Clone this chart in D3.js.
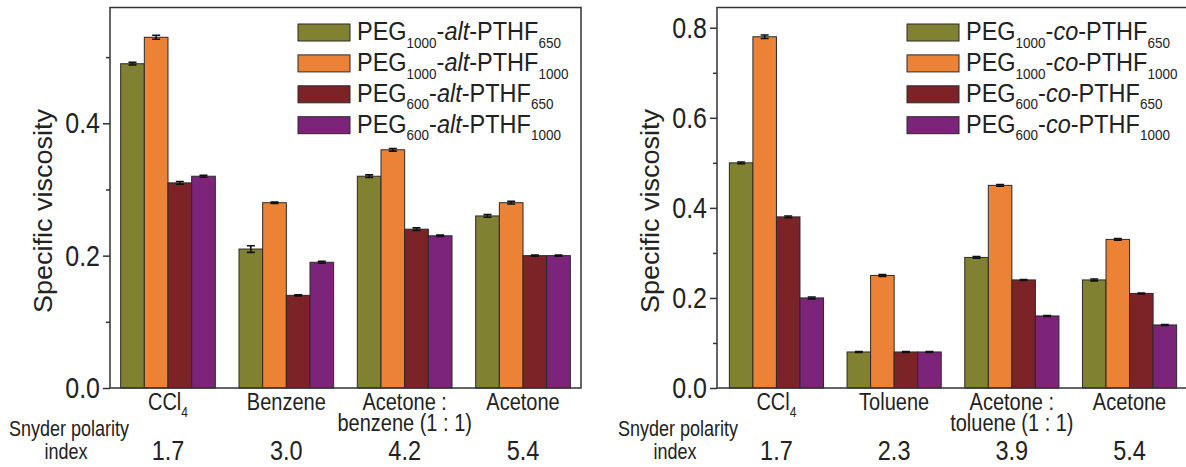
<!DOCTYPE html>
<html lang="en">
<head>
<meta charset="UTF-8">
<title>Specific viscosity - alt vs co copolymers</title>
<script src="https://d3js.org/d3.v7.min.js"></script>
<style>
  body { margin: 0; background: #fff; }
  svg text { font-family: "Liberation Sans", Arial, sans-serif; fill: #222; }
</style>
</head>
<body>
<svg width="1186" height="467"></svg>
<script>
// ---- data ----
const seriesColors = ["#808232", "#ec8236", "#7c2328", "#7b2479"];

// left panel: alternating copolymers
const altSeries = [
  { peg: "1000", link: "alt", pthf: "650" },
  { peg: "1000", link: "alt", pthf: "1000" },
  { peg: "600", link: "alt", pthf: "650" },
  { peg: "600", link: "alt", pthf: "1000" }
];
const altCategories = ["CCl4", "Benzene", "Acetone : benzene (1 : 1)", "Acetone"];
const altPolarity = ["1.7", "3.0", "4.2", "5.4"];
// rows = solvent, columns = series
const altValues = [
  [0.49, 0.53, 0.31, 0.32],
  [0.21, 0.28, 0.14, 0.19],
  [0.32, 0.36, 0.24, 0.23],
  [0.26, 0.28, 0.20, 0.20]
];
const altErrors = [
  [0.002, 0.003, 0.002, 0.0015],
  [0.005, 0.001, 0.001, 0.0015],
  [0.002, 0.002, 0.002, 0.001],
  [0.002, 0.002, 0.001, 0.001]
];

// right panel: random copolymers
const coSeries = [
  { peg: "1000", link: "co", pthf: "650" },
  { peg: "1000", link: "co", pthf: "1000" },
  { peg: "600", link: "co", pthf: "650" },
  { peg: "600", link: "co", pthf: "1000" }
];
const coCategories = ["CCl4", "Toluene", "Acetone : toluene (1 : 1)", "Acetone"];
const coPolarity = ["1.7", "2.3", "3.9", "5.4"];
const coValues = [
  [0.50, 0.78, 0.38, 0.20],
  [0.08, 0.25, 0.08, 0.08],
  [0.29, 0.45, 0.24, 0.16],
  [0.24, 0.33, 0.21, 0.14]
];
const coErrors = [
  [0.002, 0.004, 0.002, 0.002],
  [0.001, 0.002, 0.001, 0.001],
  [0.002, 0.002, 0.001, 0.001],
  [0.002, 0.002, 0.001, 0.001]
];

const svg = d3.select("svg");

// the figure's lettering is a bit taller than plain Arial: stretch around the baseline
function stretch(t, sy) {
  const x = +t.attr("x") || 0, y = +t.attr("y") || 0;
  t.attr("transform", `translate(${x},${y}) scale(1,${sy}) translate(${-x},${-y})`);
  return t;
}

// category label: "CCl4" gets a subscript, "A : b (1 : 1)" splits onto two lines
function categoryLabel(g, cx, name) {
  const t = g.append("text").attr("text-anchor", "middle").attr("font-size", 20)
    .attr("x", cx).attr("y", 410);
  if (name === "CCl4") {
    t.append("tspan").text("CCl");
    t.append("tspan").attr("font-size", 12).attr("dy", 6).text("4");
  } else if (name.includes("(")) {
    const parts = name.split(" : ");
    t.append("tspan").attr("x", cx).attr("y", 410).text(parts[0] + " :");
    t.append("tspan").attr("x", cx).attr("y", 428.5).text(parts.slice(1).join(" : "));
  } else {
    t.text(name);
  }
  stretch(t, 1.15);
}

function drawPanel(p) {
  const g = svg.append("g");

  const x = d3.scaleBand().domain(p.categories).range([p.left, p.right])
    .paddingInner(0.2).paddingOuter(p.outer);
  const xs = d3.scaleBand().domain(d3.range(4)).range([0, x.bandwidth()]);
  const y = d3.scaleLinear().domain([0, p.ymax]).range([388, 7.5]);

  // bars
  p.categories.forEach((c, i) => {
    const grp = g.append("g").attr("transform", `translate(${x(c)},0)`);
    p.values[i].forEach((v, j) => {
      grp.append("rect")
        .attr("x", xs(j)).attr("y", y(v))
        .attr("width", xs.bandwidth()).attr("height", y(0) - y(v))
        .attr("fill", seriesColors[j])
        .attr("stroke", "#2a2a2a").attr("stroke-width", 1);
      // error bar
      const e = p.errors[i][j], ex = xs(j) + xs.bandwidth() / 2;
      grp.append("path")
        .attr("d", `M${ex},${y(v - e)}V${y(v + e)}M${ex - 4},${y(v + e)}H${ex + 4}M${ex - 4},${y(v - e)}H${ex + 4}`)
        .attr("stroke", "#111").attr("stroke-width", 1.6).attr("fill", "none");
    });
    categoryLabel(g, x(c) + x.bandwidth() / 2, c);
    stretch(g.append("text").attr("x", x(c) + x.bandwidth() / 2).attr("y", 460)
      .attr("text-anchor", "middle").attr("font-size", 23.5).text(p.polarity[i]), 1.15);
  });

  // frame
  g.append("rect").attr("x", p.left).attr("y", 7.5)
    .attr("width", p.right - p.left).attr("height", 388 - 7.5)
    .attr("fill", "none").attr("stroke", "#333").attr("stroke-width", 1.5);

  // y axis with minor ticks
  const major = d3.range(0, p.ymax + 1e-9, 0.2);
  const minor = d3.range(0.1, p.ymax, 0.2);
  const ax = g.append("g").attr("transform", `translate(${p.left},0)`)
    .call(d3.axisLeft(y).tickValues(major).tickFormat(d3.format(".1f"))
      .tickSize(7).tickSizeOuter(0).tickPadding(3));
  ax.select(".domain").remove();
  ax.selectAll("line").attr("stroke", "#333").attr("stroke-width", 1.5);
  ax.selectAll("text").attr("font-size", 25).attr("fill", "#222")
    .attr("font-family", "Liberation Sans, Arial, sans-serif")
    .attr("transform", "scale(1,1.2)");
  const mx = g.append("g").attr("transform", `translate(${p.left},0)`)
    .call(d3.axisLeft(y).tickValues(minor).tickFormat("").tickSize(4).tickSizeOuter(0));
  mx.select(".domain").remove();
  mx.selectAll("line").attr("stroke", "#333").attr("stroke-width", 1.5);

  // y title
  g.append("text").attr("transform", `translate(${p.titleX},211) rotate(-90) scale(1.08,1)`)
    .attr("text-anchor", "middle").attr("font-size", 25).text("Specific viscosity");

  // Snyder polarity caption
  stretch(g.append("text").attr("x", p.captionX).attr("y", 436).attr("text-anchor", "middle")
    .attr("font-size", 18).text("Snyder polarity"), 1.18);
  stretch(g.append("text").attr("x", p.captionX - 3).attr("y", 459).attr("text-anchor", "middle")
    .attr("font-size", 18).text("index"), 1.18);

  // legend
  p.series.forEach((s, j) => {
    const ty = 24 + j * 30.9;
    g.append("rect").attr("x", p.legendX).attr("y", ty)
      .attr("width", 52).attr("height", 17)
      .attr("fill", seriesColors[j]).attr("stroke", "#2a2a2a").attr("stroke-width", 1);
    const t = g.append("text").attr("x", p.legendX + 59).attr("y", ty + 16).attr("font-size", 23.5);
    t.append("tspan").text("PEG");
    t.append("tspan").attr("font-size", 13.5).attr("dy", 7).text(s.peg);
    t.append("tspan").attr("dy", -7).text("-");
    t.append("tspan").attr("font-style", "italic").text(s.link);
    t.append("tspan").text("-PTHF");
    t.append("tspan").attr("font-size", 13.5).attr("dy", 7).text(s.pthf);
    stretch(t, 1.1);
  });
}

drawPanel({
  categories: altCategories, values: altValues, errors: altErrors, polarity: altPolarity,
  series: altSeries, ymax: 0.575, left: 110, right: 581, outer: 0.09,
  titleX: 52, captionX: 69, legendX: 298
});

drawPanel({
  categories: coCategories, values: coValues, errors: coErrors, polarity: coPolarity,
  series: coSeries, ymax: 0.845, left: 717, right: 1189, outer: 0.105,
  titleX: 659, captionX: 678, legendX: 907
});
</script>
</body>
</html>
